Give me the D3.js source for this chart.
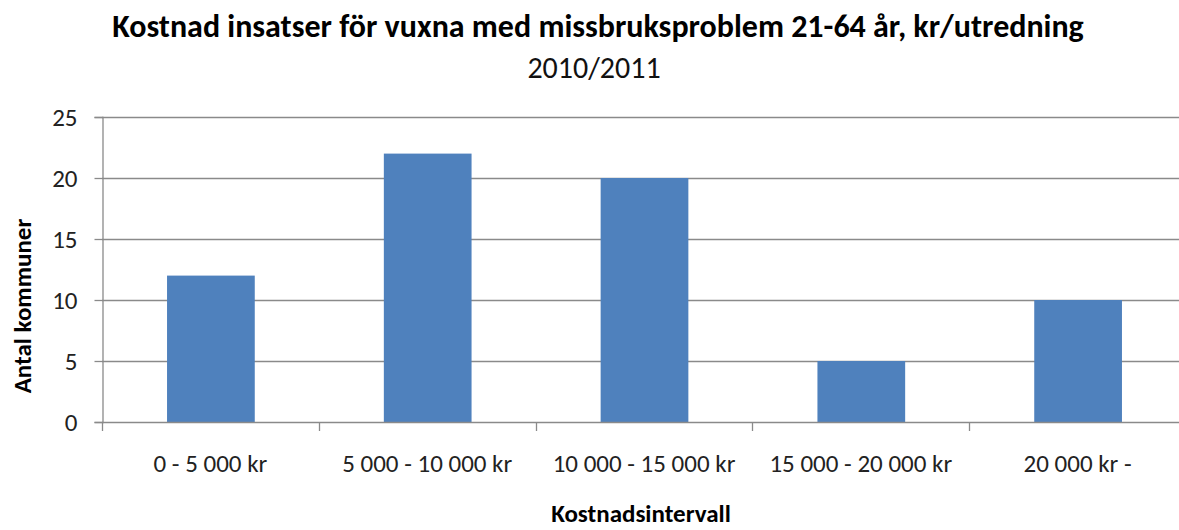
<!DOCTYPE html>
<html>
<head>
<meta charset="utf-8">
<script src="https://cdn.jsdelivr.net/npm/d3@7"></script>
<style>
  body { margin: 0; background: #fff; }
  svg { display: block; font-family: Carlito, Calibri, Lato, "Open Sans", sans-serif; }
</style>
</head>
<body>
<div id="chart"></div>
<script>
const categories = ['0 - 5 000 kr', '5 000 - 10 000 kr', '10 000 - 15 000 kr', '15 000 - 20 000 kr', '20 000 kr -'];
const values = [12, 22, 20, 5, 10];
const yTicks = [0, 5, 10, 15, 20, 25];

const width = 1179, height = 530;
const margin = { left: 102, top: 117, bottom: 108 };
const plotRight = 1186; // plot runs a little past the window edge

const svg = d3.select('#chart')
    .append('svg')
    .attr('width', width)
    .attr('height', height);

const x = d3.scaleBand()
    .domain(categories)
    .range([margin.left, plotRight])
    .paddingInner(0.6)
    .paddingOuter(0.3);

const y = d3.scaleLinear()
    .domain([0, 25])
    .range([height - margin.bottom, margin.top]);

// gridlines
svg.append('g')
    .selectAll('line')
    .data(yTicks.filter(d => d > 0))
    .enter()
    .append('line')
    .attr('x1', margin.left)
    .attr('x2', plotRight)
    .attr('y1', d => Math.round(y(d)) + 0.5)
    .attr('y2', d => Math.round(y(d)) + 0.5)
    .attr('stroke', '#8a8a8a')
    .attr('stroke-width', 1.3);

// bars
svg.append('g')
    .selectAll('rect')
    .data(values)
    .enter()
    .append('rect')
    .attr('x', (d, i) => x(categories[i]))
    .attr('y', d => y(d))
    .attr('width', x.bandwidth() + 1)
    .attr('height', d => y(0) - y(d))
    .attr('fill', '#4f81bd');

// y axis
const yAxis = svg.append('g')
    .attr('transform', `translate(${margin.left + 0.5},0)`)
    .call(d3.axisLeft(y).tickValues(yTicks).tickSize(8).tickPadding(17));
yAxis.select('.domain').attr('stroke', '#8a8a8a').attr('stroke-width', 1.3);
yAxis.selectAll('.tick line').attr('stroke', '#8a8a8a').attr('stroke-width', 1.3);
yAxis.selectAll('.tick text')
    .attr('font-size', 25)
    .attr('font-family', 'Carlito, Calibri, Lato, sans-serif')
    .attr('fill', '#222');

// x axis: ticks at category boundaries
const step = x.step();
const boundaries = d3.range(categories.length + 1).map(i => margin.left + i * step);
const xAxis = svg.append('g');
xAxis.append('line')
    .attr('x1', margin.left)
    .attr('x2', plotRight)
    .attr('y1', Math.round(y(0)) + 0.5)
    .attr('y2', Math.round(y(0)) + 0.5)
    .attr('stroke', '#8a8a8a')
    .attr('stroke-width', 1.3);
xAxis.selectAll('.xt')
    .data(boundaries)
    .enter()
    .append('line')
    .attr('x1', d => Math.round(d) + 0.5)
    .attr('x2', d => Math.round(d) + 0.5)
    .attr('y1', y(0))
    .attr('y2', y(0) + 9)
    .attr('stroke', '#8a8a8a')
    .attr('stroke-width', 1.3);
xAxis.selectAll('text')
    .data(categories)
    .enter()
    .append('text')
    .attr('x', d => x(d) + x.bandwidth() / 2)
    .attr('y', 472)
    .attr('text-anchor', 'middle')
    .attr('font-size', 25)
    .attr('fill', '#222')
    .text(d => d);

// titles
svg.append('text')
    .attr('x', 598)
    .attr('y', 37)
    .attr('text-anchor', 'middle')
    .attr('font-size', 32)
    .attr('font-weight', 'bold')
    .attr('fill', '#000')
    .text('Kostnad insatser för vuxna med missbruksproblem 21-64 år, kr/utredning');

svg.append('text')
    .attr('x', 594)
    .attr('y', 78)
    .attr('text-anchor', 'middle')
    .attr('font-size', 30)
    .attr('fill', '#111')
    .text('2010/2011');

svg.append('text')
    .attr('x', 641)
    .attr('y', 522)
    .attr('text-anchor', 'middle')
    .attr('font-size', 25)
    .attr('font-weight', 'bold')
    .attr('fill', '#000')
    .text('Kostnadsintervall');

svg.append('text')
    .attr('transform', 'translate(31,306) rotate(-90)')
    .attr('text-anchor', 'middle')
    .attr('font-size', 25)
    .attr('font-weight', 'bold')
    .attr('fill', '#000')
    .text('Antal kommuner');
</script>
</body>
</html>
